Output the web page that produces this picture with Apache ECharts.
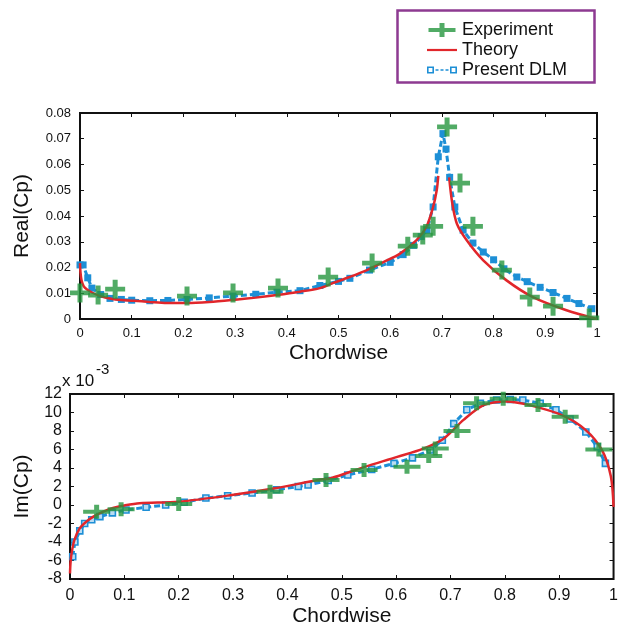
<!DOCTYPE html>
<html>
<head>
<meta charset="utf-8">
<script src="https://cdn.jsdelivr.net/npm/echarts@6/dist/echarts.min.js"></script>
<style>html,body{margin:0;padding:0;background:#fff;}#c{width:621px;height:630px;}</style>
</head>
<body>
<div id="c"></div>
<script>
// ---------- Real(Cp) panel ----------
const realExpX = [0, 0.035, 0.068, 0.207, 0.296, 0.383, 0.48, 0.565, 0.634, 0.663, 0.683, 0.71, 0.735, 0.76, 0.816, 0.87, 0.915, 0.985];
const realExpY = [0.0101, 0.0093, 0.0116, 0.0089, 0.0101, 0.012, 0.0163, 0.0217, 0.0283, 0.0326, 0.036, 0.0746, 0.0528, 0.036, 0.019, 0.0085, 0.005, 0.0004];

const realThX = [0, 0.001, 0.003, 0.007, 0.013, 0.025, 0.039, 0.06, 0.08, 0.103, 0.135, 0.168, 0.207, 0.25, 0.296, 0.34, 0.381, 0.4255, 0.464, 0.49, 0.52, 0.555, 0.587, 0.619, 0.651, 0.67, 0.683, 0.69, 0.693, 0.703, 0.714, 0.72, 0.729, 0.748, 0.78, 0.825, 0.876, 0.941, 1.0];
const realThY = [0.0217, 0.018, 0.015, 0.0128, 0.0116, 0.0101, 0.0089, 0.0079, 0.0074, 0.0071, 0.0066, 0.0062, 0.0062, 0.0066, 0.0074, 0.0083, 0.0093, 0.0106, 0.012, 0.014, 0.0162, 0.019, 0.0221, 0.0254, 0.0306, 0.0358, 0.0435, 0.05, 0.0556, null, 0.055, 0.045, 0.037, 0.0306, 0.0228, 0.015, 0.0085, 0.0034, 0];

const realDlmX = [0, 0.006, 0.015, 0.023, 0.04, 0.058, 0.08, 0.1, 0.135, 0.17, 0.207, 0.25, 0.296, 0.34, 0.381, 0.4255, 0.464, 0.5, 0.522, 0.56, 0.6, 0.625, 0.645, 0.66, 0.671, 0.683, 0.693, 0.702, 0.708, 0.715, 0.725, 0.741, 0.76, 0.78, 0.8, 0.82, 0.845, 0.865, 0.89, 0.915, 0.942, 0.965, 0.99];
const realDlmY = [0.021, 0.021, 0.016, 0.012, 0.0095, 0.008, 0.0076, 0.0073, 0.0071, 0.0072, 0.0076, 0.0082, 0.0089, 0.0096, 0.0104, 0.011, 0.013, 0.0146, 0.0158, 0.019, 0.022, 0.025, 0.0286, 0.032, 0.0345, 0.0435, 0.063, 0.072, 0.066, 0.055, 0.0435, 0.0345, 0.0295, 0.026, 0.023, 0.0195, 0.0163, 0.0145, 0.0123, 0.0103, 0.008, 0.006, 0.004];

// ---------- Im(Cp) panel (x 10^-3) ----------
const imExpX = [0.049, 0.094, 0.2, 0.368, 0.471, 0.541, 0.62, 0.66, 0.672, 0.712, 0.748, 0.797, 0.861, 0.911, 0.973];
const imExpY = [-0.72, -0.47, 0.1, 1.44, 2.7, 3.78, 4.14, 5.3, 6.1, 8.0, 11.0, 11.5, 10.8, 9.55, 6.0];

const imThX = [0, 0.001, 0.003, 0.008, 0.018, 0.03, 0.043, 0.06, 0.079, 0.1, 0.128, 0.2, 0.298, 0.377, 0.456, 0.48, 0.541, 0.602, 0.65, 0.688, 0.724, 0.761, 0.803, 0.845, 0.906, 0.949, 0.979, 0.995, 1.0];
const imThY = [-7.4, -6.2, -5.2, -3.8, -2.5, -1.8, -1.26, -0.75, -0.33, -0.05, 0.2, 0.36, 1.08, 1.8, 2.7, 2.9, 4.1, 5.2, 6.1, 7.2, 9.2, 10.8, 11.2, 10.8, 9.7, 8.1, 5.9, 3.1, -0.2];

const imDlmX = [0.005, 0.009, 0.018, 0.027, 0.04, 0.055, 0.078, 0.103, 0.14, 0.176, 0.21, 0.25, 0.29, 0.335, 0.38, 0.42, 0.438, 0.475, 0.511, 0.555, 0.596, 0.63, 0.663, 0.685, 0.706, 0.73, 0.755, 0.785, 0.81, 0.833, 0.865, 0.894, 0.92, 0.949, 0.97, 0.985];
const imDlmY = [-5.6, -4.0, -2.8, -2.0, -1.6, -1.26, -0.85, -0.54, -0.25, 0, 0.3, 0.75, 1.0, 1.3, 1.65, 2.0, 2.16, 2.65, 3.24, 3.85, 4.5, 5.1, 5.95, 7.0, 8.8, 10.3, 11.0, 11.35, 11.4, 11.35, 11.0, 10.3, 9.3, 7.9, 6.3, 4.5];

const seriesNames = ['Experiment', 'Theory', 'Present DLM'];

function zip(xs, ys) { return xs.map((x, i) => [x, ys[i] === null ? '-' : ys[i]]); }

const GREEN = '#25963f', RED = '#e1262b', BLUE = '#1d8fd6', INK = '#111';
const plusSq = 'path://M7.5,0H12.5V7.5H20V12.5H12.5V20H7.5V12.5H0V7.5H7.5Z';
const plusWide = 'path://M11,0H16V5H27V9H16V14H11V9H0V5H11Z';
const lineIcon = 'path://M0,6H30V8.2H0Z';
const dlmIcon = 'path://M0,3.5H7V10.5H0Z M1.6,5.1V8.9H5.4V5.1Z M8.5,6.3H11.5V7.7H8.5Z M13.5,6.3H16.5V7.7H13.5Z M18.5,6.3H21.5V7.7H18.5Z M23,3.5H30V10.5H23Z M24.6,5.1V8.9H28.4V5.1Z';
const FONT = '"Liberation Sans", Arial, Helvetica, sans-serif';

function xAxes(gi, fs, margin, gap) {
  return [
    { gridIndex: gi, type: 'value', min: 0, max: 1, interval: 0.1, position: 'bottom',
      axisLine: { show: false, onZero: false }, splitLine: { show: false },
      axisTick: { inside: true, length: 4, lineStyle: { color: INK, width: 1 } },
      axisLabel: { fontSize: fs, color: INK, margin: margin, fontFamily: FONT },
      name: 'Chordwise', nameLocation: 'middle', nameGap: gap,
      nameTextStyle: { fontSize: 21, color: INK, fontFamily: FONT } },
    { gridIndex: gi, type: 'value', min: 0, max: 1, interval: 0.1, position: 'top',
      axisLine: { show: false, onZero: false }, splitLine: { show: false }, axisLabel: { show: false },
      axisTick: { inside: true, length: 4, lineStyle: { color: INK, width: 1 } } }
  ];
}
function yAxes(gi, min, max, itv, fs, margin, name, gap, fmt) {
  return [
    { gridIndex: gi, type: 'value', min: min, max: max, interval: itv, position: 'left',
      axisLine: { show: false, onZero: false }, splitLine: { show: false },
      axisTick: { inside: true, length: 4, lineStyle: { color: INK, width: 1 } },
      axisLabel: { fontSize: fs, color: INK, margin: margin, fontFamily: FONT, formatter: fmt },
      name: name, nameLocation: 'middle', nameGap: gap, nameRotate: 90,
      nameTextStyle: { fontSize: 21, color: INK, fontFamily: FONT } },
    { gridIndex: gi, type: 'value', min: min, max: max, interval: itv, position: 'right',
      axisLine: { show: false, onZero: false }, splitLine: { show: false }, axisLabel: { show: false },
      axisTick: { inside: true, length: 4, lineStyle: { color: INK, width: 1 } } }
  ];
}

const chart = echarts.init(document.getElementById('c'), null, { renderer: 'canvas' });
chart.setOption({
  animation: false,
  backgroundColor: '#fff',
  textStyle: { fontFamily: FONT },
  legend: {
    data: [{ name: seriesNames[0], icon: plusWide }, { name: seriesNames[1], icon: lineIcon }, { name: seriesNames[2], icon: dlmIcon }],
    orient: 'vertical', left: 427, top: 21, padding: 0,
    itemWidth: 30, itemHeight: 14, itemGap: 2, selectedMode: false,
    textStyle: { fontSize: 18, color: INK, lineHeight: 15, fontFamily: FONT }
  },
  graphic: [
    { type: 'rect', left: 395, top: 8, shape: { width: 197, height: 72 },
      style: { fill: 'none', stroke: '#8d3a91', lineWidth: 2.5 } },
    { type: 'text', left: 62, top: 373, style: { text: 'x 10', fontSize: 17, fill: INK, fontFamily: FONT } },
    { type: 'text', left: 96, top: 362, style: { text: '-3', fontSize: 15, fill: INK, fontFamily: FONT } }
  ],
  grid: [
    { left: 80, top: 113, width: 517, height: 206, show: true, borderColor: INK, borderWidth: 2, backgroundColor: 'transparent' },
    { left: 70, top: 394, width: 548, height: 185, show: true, borderColor: INK, borderWidth: 2, backgroundColor: 'transparent' }
  ],
  xAxis: [].concat(xAxes(0, 13, 8, 24), xAxes(1, 16, 9, 27)),
  yAxis: [].concat(
    yAxes(0, 0, 0.08, 0.01, 13, 9, 'Real(Cp)', 47, v => v === 0 ? '0' : v.toFixed(2)),
    yAxes(1, -8, 12, 2, 16, 8, 'Im(Cp)', 37, v => String(v))
  ),
  series: [
    { name: seriesNames[2], type: 'line', xAxisIndex: 0, yAxisIndex: 0, data: zip(realDlmX, realDlmY),
      symbol: 'rect', symbolSize: 7, itemStyle: { color: BLUE },
      lineStyle: { color: BLUE, width: 3, type: [6, 3] }, z: 2 },
    { name: seriesNames[1], type: 'line', xAxisIndex: 0, yAxisIndex: 0, data: zip(realThX, realThY),
      showSymbol: false, symbol: 'none', smooth: 0.3, connectNulls: false,
      itemStyle: { color: RED }, lineStyle: { color: RED, width: 2.5 }, z: 3 },
    { name: seriesNames[0], type: 'scatter', xAxisIndex: 0, yAxisIndex: 0, data: zip(realExpX, realExpY),
      symbol: plusSq, symbolSize: [20, 19], itemStyle: { color: GREEN }, z: 4 },

    { name: seriesNames[2], type: 'line', xAxisIndex: 2, yAxisIndex: 2, data: zip(imDlmX, imDlmY),
      symbol: 'rect', symbolSize: 6, itemStyle: { color: '#b9dcf3', borderColor: BLUE, borderWidth: 1.6 },
      lineStyle: { color: BLUE, width: 3, type: [6, 3] }, z: 2 },
    { name: seriesNames[1], type: 'line', xAxisIndex: 2, yAxisIndex: 2, data: zip(imThX, imThY),
      showSymbol: false, symbol: 'none', smooth: 0.3,
      itemStyle: { color: RED }, lineStyle: { color: RED, width: 2.5 }, z: 3 },
    { name: seriesNames[0], type: 'scatter', xAxisIndex: 2, yAxisIndex: 2, data: zip(imExpX, imExpY),
      symbol: plusWide, symbolSize: [27, 14], itemStyle: { color: GREEN }, z: 4 }
  ]
});
</script>
</body>
</html>
